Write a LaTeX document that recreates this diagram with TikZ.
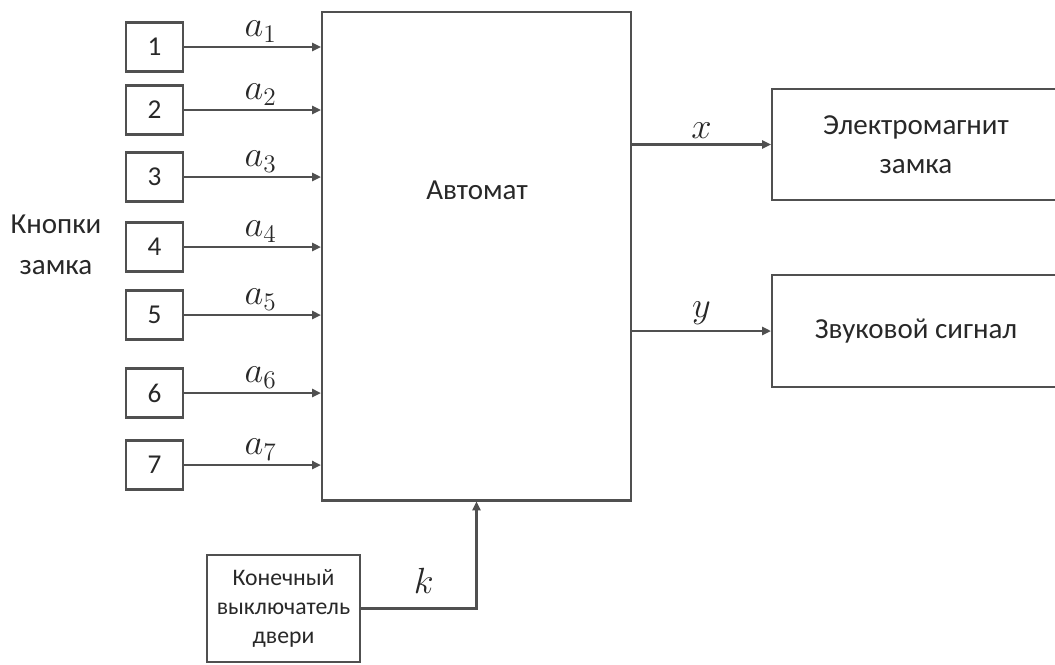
\documentclass[tikz,border=0pt]{standalone}
\usepackage{fontspec}
\setmainfont{Carlito}
\usetikzlibrary{arrows.meta}
\definecolor{ln}{RGB}{80,80,80}
\definecolor{tx}{RGB}{40,40,40}
\tikzset{
  blk/.style={draw=ln, line width=1.2pt, rectangle, inner sep=0pt, text=tx, align=center, font=\fontsize{16.5}{22}\selectfont},
  numbox/.style={blk, minimum width=1.14cm, minimum height=0.98cm, font=\fontsize{15.5}{17}\selectfont},
  arr/.style={draw=ln, line width=1.2pt, -{Triangle[length=5pt,width=4.5pt]}},
  lab/.style={text=tx, font=\fontsize{20}{22}\selectfont, inner sep=1pt}
}
\begin{document}
\begin{tikzpicture}[x=0.02cm,y=-0.02cm]
\clip (0,0) rectangle (1055,664);
\fill[white] (0,0) rectangle (1055,664);
% main block
\node[blk, minimum width=6.18cm, minimum height=9.78cm] (main) at (476.5,256) {};
\node[text=tx, font=\fontsize{16.5}{18}\selectfont] (mainlab) at (477,190) {Автомат};
% input buttons
\node[numbox] (b1) at (154.5,47) {1};
\node[numbox] (b2) at (154.5,110) {2};
\node[numbox] (b3) at (154.5,177) {3};
\node[numbox] (b4) at (154.5,247) {4};
\node[numbox] (b5) at (154.5,315) {5};
\node[numbox] (b6) at (154.5,393) {6};
\node[numbox] (b7) at (154.5,465) {7};
\foreach \i in {1,...,7}{
  \draw[arr] (b\i.east) -- (b\i.east -| main.west) node[lab, pos=0.56, above=1pt] {$a_{\i}$};
}
\node[text=tx, align=center, font=\fontsize{16.5}{23}\selectfont] (knopki) at (56,245) {Кнопки\\замка};
% outputs
\node[blk, minimum width=5.76cm, minimum height=2.22cm] (em) at (916,144.5) {Электромагнит\\замка};
\node[blk, minimum width=5.76cm, minimum height=2.24cm] (zv) at (916,331) {Звуковой сигнал};
\draw[arr] (em.west -| main.east) -- (em.west) node[lab, midway, above=2pt] {$x$};
\draw[arr] (zv.west -| main.east) -- (zv.west) node[lab, midway, above=2pt] {$y$};
% limit switch
\node[blk, minimum width=3.06cm, minimum height=2.14cm, font=\fontsize{13.5}{16.5}\selectfont] (ks) at (283.5,608.5) {Конечный\\выключатель\\двери};
\draw[arr] (ks.east) -| (main.south) node[lab, pos=0.5, above=7pt, xshift=-30pt] {$k$};
\end{tikzpicture}
\end{document}
